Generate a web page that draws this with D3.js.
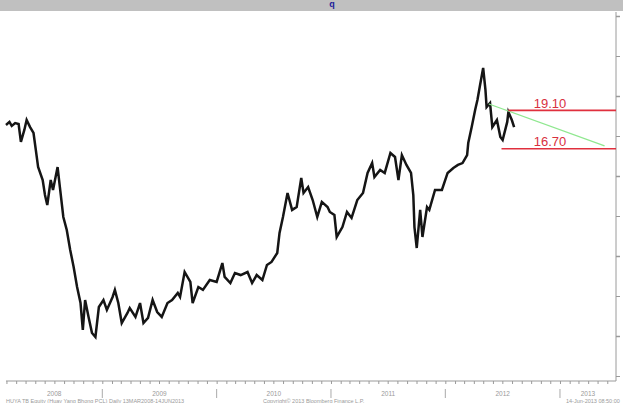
<!DOCTYPE html>
<html>
<head>
<meta charset="utf-8">
<title>HUYA TB Equity</title>
<script src="https://cdn.jsdelivr.net/npm/d3@7"></script>
<style>
  body { margin: 0; background: #fff; }
  svg { display: block; font-family: "Liberation Sans", Arial, sans-serif; }
  .axis path, .axis line { stroke: #9a9a9a; }
  .small-text { fill: #9a9a9a; font-size: 6.5px; }
</style>
</head>
<body>
<svg width="623" height="403"></svg>
<script>
// price series, dates as decimal years
var dates = [2008.16, 2008.19, 2008.21, 2008.24, 2008.27, 2008.29, 2008.32, 2008.34, 2008.37, 2008.40,
  2008.42, 2008.44, 2008.48, 2008.50, 2008.52, 2008.55, 2008.57, 2008.61, 2008.63, 2008.66,
  2008.69, 2008.72, 2008.75, 2008.78, 2008.81, 2008.83, 2008.85, 2008.88, 2008.91, 2008.94,
  2008.97, 2009.01, 2009.04, 2009.09, 2009.11, 2009.14, 2009.17, 2009.22, 2009.24, 2009.29,
  2009.33, 2009.36, 2009.40, 2009.44, 2009.48, 2009.52, 2009.57, 2009.61, 2009.66, 2009.68,
  2009.72, 2009.77, 2009.79, 2009.84, 2009.88, 2009.94, 2010.00, 2010.05, 2010.07, 2010.12,
  2010.16, 2010.21, 2010.27, 2010.31, 2010.35, 2010.40, 2010.44, 2010.48, 2010.53, 2010.55,
  2010.58, 2010.62, 2010.66, 2010.70, 2010.74, 2010.76, 2010.80, 2010.84, 2010.88, 2010.92,
  2010.97, 2010.99, 2011.03, 2011.05, 2011.10, 2011.14, 2011.18, 2011.23, 2011.28, 2011.32,
  2011.36, 2011.38, 2011.43, 2011.47, 2011.52, 2011.56, 2011.59, 2011.62, 2011.66, 2011.70,
  2011.72, 2011.73, 2011.75, 2011.78, 2011.80, 2011.84, 2011.86, 2011.91, 2011.97, 2012.02,
  2012.07, 2012.11, 2012.15, 2012.19, 2012.20, 2012.23, 2012.26, 2012.28, 2012.30, 2012.33,
  2012.35, 2012.36, 2012.39, 2012.41, 2012.45, 2012.48, 2012.50, 2012.54, 2012.55, 2012.58,
  2012.60];
var prices = [18.19, 18.38, 18.13, 18.31, 18.25, 17.13, 17.88, 18.50, 18.06, 17.69,
  16.63, 15.56, 14.75, 13.81, 13.19, 14.75, 14.13, 15.56, 14.31, 12.44,
  11.63, 10.38, 9.31, 8.06, 7.06, 5.38, 7.25, 6.19, 5.19, 4.94,
  6.81, 7.25, 6.63, 7.44, 7.88, 7.06, 5.81, 6.44, 6.75, 6.19,
  7.06, 5.81, 6.13, 7.25, 6.50, 6.19, 7.06, 7.25, 7.69, 7.44,
  9.00, 8.38, 7.06, 8.06, 7.88, 8.50, 8.38, 9.56, 8.69, 8.31,
  8.94, 8.81, 9.00, 8.31, 8.81, 8.50, 9.44, 9.63, 10.19, 11.44,
  12.44, 13.94, 12.88, 13.06, 14.88, 13.94, 14.31, 13.50, 12.44, 13.38,
  13.06, 12.75, 12.56, 11.19, 11.81, 12.75, 12.38, 13.50, 13.94, 15.19,
  15.81, 14.94, 15.38, 15.19, 16.44, 16.19, 14.75, 16.31, 15.69, 15.19,
  13.81, 11.81, 10.50, 12.88, 11.19, 13.06, 12.88, 14.13, 14.13, 15.19,
  15.50, 15.69, 15.81, 16.31, 17.06, 18.06, 19.13, 19.75, 20.56, 21.75,
  20.38, 19.31, 19.56, 18.06, 18.50, 17.44, 17.25, 18.38, 19.00, 18.50,
  18.06];

// horizontal levels
var levelValues = [19.10, 16.70];
var levelLabels = ["19.10", "16.70"];
var levelStarts = [2012.55, 2012.49];

// falling trend line
var trendDates = [2012.38, 2013.39];
var trendValues = [19.50, 16.88];

var yearLabels = ["2008", "2009", "2010", "2011", "2012", "2013"];
var yTicks = [2.5, 5, 7.5, 10, 12.5, 15, 17.5, 20, 22.5, 25];

var footerLeft = "HUYA TB Equity (Huay Yang Bhong PCL) Daily 13MAR2008-14JUN2013";
var footerMid = "Copyright\u00a9 2013 Bloomberg Finance L.P.";
var footerRight = "14-Jun-2013 08:50:00";

function toDate(v) {
  var yr = Math.floor(v);
  var a = new Date(yr, 0, 1), b = new Date(yr + 1, 0, 1);
  return new Date(+a + (v - yr) * (b - a));
}

var svg = d3.select("svg"),
    plotLeft = 6, plotRight = 616, plotTop = 11, plotBottom = 381;

var x = d3.scaleTime().domain([toDate(2008.16), toDate(2013.49)]).range([plotLeft, plotRight]);
var y = d3.scaleLinear().domain([5, 25]).range([336, 16]);

// header band
svg.append("rect").attr("x", 0).attr("y", 0).attr("width", 623).attr("height", plotTop)
  .attr("fill", "#c0c0c0");
svg.append("text").attr("x", 332).attr("y", 7).attr("text-anchor", "middle")
  .attr("fill", "#1c1c9a").attr("font-size", "9px").attr("font-weight", "bold").text("q");

// bottom axis, monthly ticks
var xAxis = svg.append("g").attr("class", "axis")
  .attr("transform", "translate(0," + plotBottom + ")")
  .call(d3.axisBottom(x).ticks(d3.timeMonth.every(1)).tickSize(3).tickSizeOuter(0).tickFormat(""));
xAxis.select(".domain").attr("d", "M" + plotLeft + ",0H" + plotRight);

// right axis
var yAxis = svg.append("g").attr("class", "axis")
  .attr("transform", "translate(" + plotRight + ",0)")
  .call(d3.axisRight(y).tickValues(yTicks).tickSize(4).tickSizeOuter(0).tickFormat(""));
yAxis.select(".domain").attr("d", "M0," + (plotTop + 1) + "V" + plotBottom);
yAxis.selectAll(".tick line")
  .attr("stroke", function(d) { return d % 5 === 0 ? "#222" : "#bbb"; })
  .attr("stroke-width", function(d) { return d % 5 === 0 ? 1.5 : 1; });

// year separators and labels
var years = d3.range(2009, 2014);
svg.selectAll(".year-sep").data(years).enter().append("line")
  .attr("class", "year-sep")
  .attr("x1", function(d) { return x(new Date(d, 0, 1)); })
  .attr("x2", function(d) { return x(new Date(d, 0, 1)); })
  .attr("y1", 389).attr("y2", 398)
  .attr("stroke", "#aaa");

svg.selectAll(".year-label").data(yearLabels).enter().append("text")
  .attr("class", "small-text")
  .attr("text-anchor", "middle")
  .attr("x", function(d) {
    var a = Math.max(x(new Date(+d, 0, 1)), plotLeft);
    var b = Math.min(x(new Date(+d + 1, 0, 1)), plotRight);
    return (a + b) / 2;
  })
  .attr("y", 396)
  .text(function(d) { return d; });

svg.append("text").attr("class", "small-text").attr("x", plotLeft).attr("y", 402.5)
  .attr("font-size", "5.5px").style("font-size", "5.5px").text(footerLeft);
svg.append("text").attr("class", "small-text").attr("x", 263).attr("y", 402.5)
  .style("font-size", "5.5px").text(footerMid);
svg.append("text").attr("class", "small-text").attr("x", 566).attr("y", 402.5)
  .style("font-size", "5.5px").text(footerRight);

// price line
var series = dates.map(function(d, i) { return {date: toDate(d), value: prices[i]}; });
var line = d3.line().x(function(d) { return x(d.date); }).y(function(d) { return y(d.value); });
svg.append("path").datum(series)
  .attr("fill", "none").attr("stroke", "#151515").attr("stroke-width", 2.5)
  .attr("stroke-linejoin", "miter")
  .attr("d", line);

// trend line
svg.append("line")
  .attr("x1", x(toDate(trendDates[0]))).attr("y1", y(trendValues[0]))
  .attr("x2", x(toDate(trendDates[1]))).attr("y2", y(trendValues[1]))
  .attr("stroke", "#90e890").attr("stroke-width", 1.3);

// levels
levelValues.forEach(function(v, i) {
  svg.append("line")
    .attr("x1", x(toDate(levelStarts[i]))).attr("x2", plotRight)
    .attr("y1", y(v)).attr("y2", y(v))
    .attr("stroke", "#e0303e").attr("stroke-width", 1.6);
  svg.append("text")
    .attr("x", 550).attr("y", y(v) - 2.5)
    .attr("text-anchor", "middle")
    .attr("fill", "#d8303e").attr("font-size", "13px")
    .text(levelLabels[i]);
});
</script>
</body>
</html>
